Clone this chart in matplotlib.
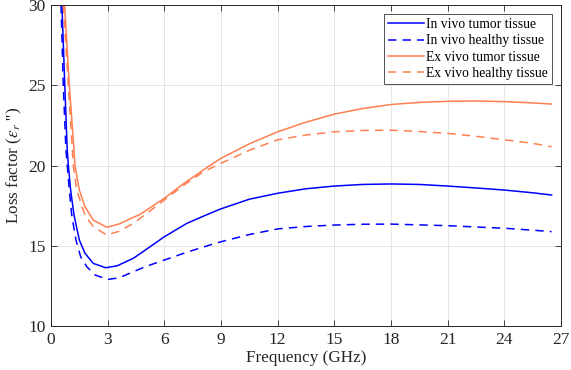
import numpy as np
import matplotlib
matplotlib.use("Agg")
import matplotlib.pyplot as plt

# values (frequency in GHz, loss factor)
f_vivo_tumor = [0.58, 0.73, 0.86, 0.92, 1.04, 1.22, 1.5, 1.8, 2.24, 2.9, 3.5, 4.36, 4.71, 6.0,
                7.2, 8.42, 9.0, 10.5, 12.0, 13.5, 15.0, 16.5, 18.0, 19.5, 21.0, 22.5, 24.0,
                25.5, 26.5]
e_vivo_tumor = [30.0, 25.0, 21.0, 20.0, 18.47, 16.9, 15.36, 14.53, 13.9, 13.63, 13.75, 14.22, 14.5, 15.56,
                16.4, 17.02, 17.3, 17.9, 18.27, 18.55, 18.72, 18.82, 18.85, 18.82, 18.72, 18.6, 18.47,
                18.3, 18.16]

f_vivo_healthy = [0.53, 0.65, 0.79, 0.86, 0.97, 1.1, 1.32, 1.57, 1.89, 2.33, 3.0, 3.6, 4.36, 5.0,
                  6.0, 7.2, 8.42, 9.0, 10.5, 12.0, 13.5, 15.0, 16.5, 18.0, 19.5, 21.0, 22.5,
                  24.0, 25.5, 26.5]
e_vivo_healthy = [30.0, 25.0, 21.0, 20.0, 18.47, 16.9, 15.36, 14.32, 13.7, 13.18, 12.9, 13.0, 13.38, 13.7,
                  14.11, 14.6, 15.05, 15.25, 15.7, 16.05, 16.2, 16.29, 16.34, 16.35, 16.3, 16.25, 16.17,
                  16.09, 15.97, 15.88]

f_vitro_tumor = [0.72, 0.97, 1.18, 1.27, 1.5, 1.8, 2.24, 2.95, 3.6, 4.36, 4.71, 6.0, 7.0, 8.06,
                 9.0, 10.5, 12.0, 13.5, 15.0, 16.5, 18.0, 19.5, 21.0, 22.5, 24.0, 25.5, 26.5]
e_vitro_tumor = [30.0, 25.0, 21.6, 20.0, 18.47, 17.43, 16.6, 16.15, 16.35, 16.77, 16.95, 17.96, 18.85, 19.72,
                 20.45, 21.35, 22.1, 22.7, 23.2, 23.55, 23.8, 23.93, 24.0, 24.02, 23.98, 23.9, 23.83]

f_vitro_healthy = [0.65, 0.92, 1.1, 1.18, 1.36, 1.8, 2.24, 2.95, 3.6, 4.36, 4.71, 6.0, 7.0, 8.06,
                   9.0, 10.5, 12.0, 13.5, 15.0, 16.5, 18.0, 19.5, 21.0, 22.5, 24.0, 25.5, 26.5]
e_vitro_healthy = [30.0, 25.0, 21.6, 20.0, 18.47, 16.9, 16.19, 15.67, 15.9, 16.4, 16.7, 17.85, 18.75, 19.6,
                   20.14, 20.95, 21.6, 21.9, 22.1, 22.18, 22.2, 22.12, 22.0, 21.82, 21.6, 21.38, 21.17]

labels = ["In vivo tumor tissue", "In vivo healthy tissue",
          "Ex vivo tumor tissue", "Ex vivo healthy tissue"]

x_ticks = [0, 3, 6, 9, 12, 15, 18, 21, 24, 27]
y_ticks = [10, 15, 20, 25, 30]

plt.rcParams['font.family'] = ['Liberation Serif', 'DejaVu Serif']
plt.rcParams['mathtext.fontset'] = 'stix'

blue = '#0000ff'
orange = '#ff7f50'
dash = (0, (5.5, 4))

fig = plt.figure(figsize=(5.71, 3.70), dpi=100)
ax = fig.add_axes([0.0893, 0.1189, 0.8932, 0.8676])

ax.plot(f_vivo_tumor, e_vivo_tumor, color=blue, lw=1.1, label=labels[0])
ax.plot(f_vivo_healthy, e_vivo_healthy, color=blue, lw=1.1, ls=dash, label=labels[1])
ax.plot(f_vitro_tumor, e_vitro_tumor, color=orange, lw=1.1, label=labels[2])
ax.plot(f_vitro_healthy, e_vitro_healthy, color=orange, lw=1.1, ls=dash, label=labels[3])

ax.set_xlim(0, 27)
ax.set_ylim(10, 30)
ax.set_xticks(x_ticks)
ax.set_yticks(y_ticks)
ax.grid(True, color='#e6e6e6', lw=0.7)
ax.set_axisbelow(True)
ax.tick_params(direction='in', top=True, right=True, labelsize=12.5, length=4,
               color='#262626', width=0.6, labelcolor='#262626', pad=4)
for s in ax.spines.values():
    s.set_color('#262626')
    s.set_linewidth(0.7)

ax.set_xlabel("Frequency (GHz)", fontsize=12.3, color='#262626', labelpad=2)
ax.set_ylabel("Loss factor ($\\epsilon_r$ '')", fontsize=12.3, color='#262626', labelpad=3)

leg = ax.legend(loc='upper right', fontsize=9.8, frameon=True, fancybox=False,
                edgecolor='#262626', handlelength=2.6, handletextpad=0.2,
                borderpad=0.3, labelspacing=0.25, borderaxespad=0.65)
leg.get_frame().set_linewidth(0.7)

fig.savefig("out.png", dpi=100)
